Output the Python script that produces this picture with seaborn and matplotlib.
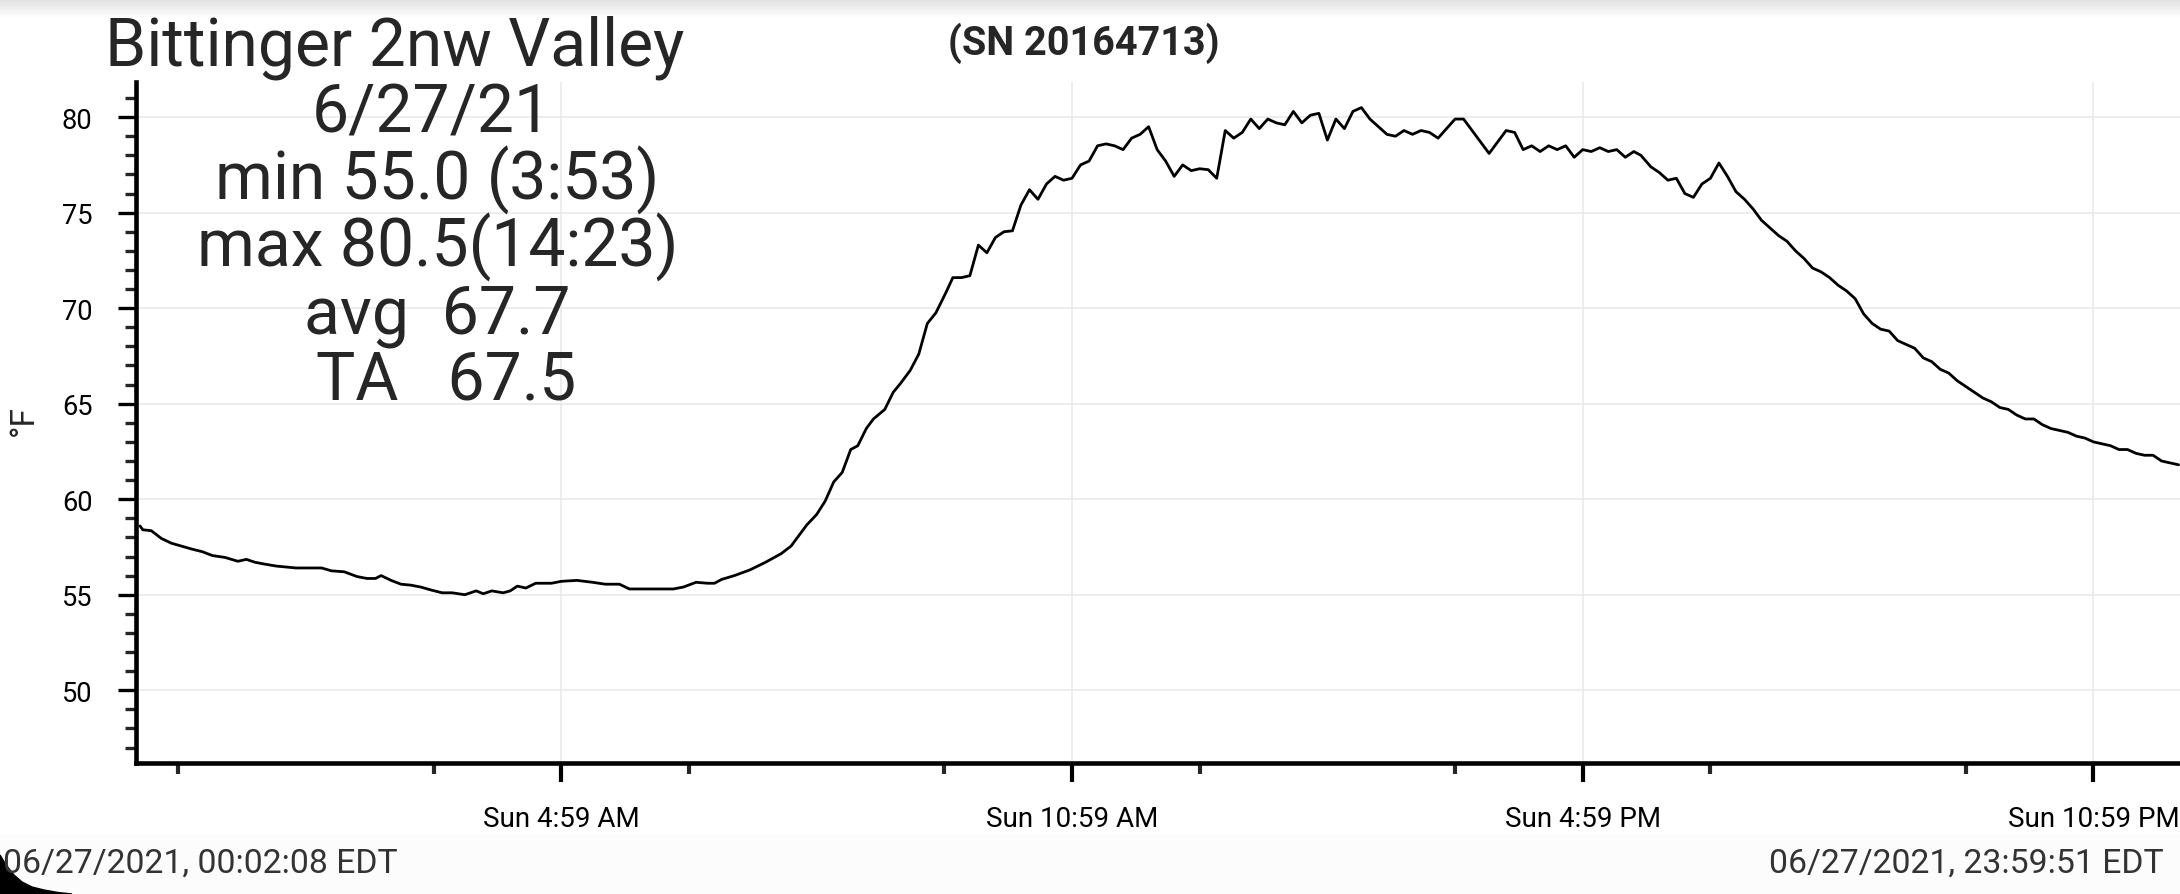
import matplotlib
matplotlib.use("Agg")
import numpy as np
import pandas as pd
import matplotlib.pyplot as plt
import seaborn as sns
from matplotlib import font_manager
from matplotlib.patches import Polygon, Rectangle

# Logger readings: minutes after midnight and temperature (deg F)
minutes = [2, 4, 10, 17, 24, 31, 38, 46, 53, 62, 71, 77, 83, 90, 98, 105, 112, 121, 130, 137,
           146, 155, 162, 168, 172, 179, 186, 193, 200, 207, 215, 222, 231, 239, 244, 250, 258, 263, 268, 274,
           281, 292, 299, 310, 321, 330, 340, 347, 357, 378, 385, 394, 402, 407, 412, 421, 432, 443, 454, 461,
           467, 472, 479, 485, 491, 497, 503, 508, 514, 519, 527, 533, 538, 545, 551, 557, 563, 570, 575, 581,
           587, 593, 599, 605, 611, 617, 623, 629, 635, 641, 647, 653, 659, 665, 671, 677, 683, 689, 695, 701,
           707, 713, 719, 725, 731, 737, 743, 749, 755, 761, 767, 773, 779, 785, 791, 797, 803, 809, 815, 821,
           827, 833, 839, 845, 851, 857, 863, 869, 875, 881, 887, 893, 899, 905, 911, 917, 923, 929, 935, 941,
           947, 953, 959, 965, 971, 977, 983, 989, 995, 1001, 1007, 1013, 1019, 1025, 1031, 1037, 1043, 1049, 1055, 1060,
           1067, 1073, 1079, 1085, 1091, 1097, 1103, 1109, 1115, 1121, 1127, 1133, 1139, 1145, 1151, 1157, 1163, 1169, 1175, 1181,
           1187, 1193, 1199, 1205, 1211, 1217, 1223, 1229, 1235, 1241, 1247, 1253, 1259, 1265, 1271, 1277, 1283, 1289, 1295, 1301,
           1307, 1313, 1319, 1325, 1331, 1337, 1343, 1349, 1355, 1361, 1367, 1373, 1379, 1385, 1391, 1397, 1403, 1409, 1415, 1421,
           1427, 1439]
temps_f = [58.6, 58.4, 58.35, 57.95, 57.7, 57.55, 57.4, 57.25, 57.05, 56.95, 56.75, 56.85, 56.7, 56.6, 56.5, 56.45, 56.4, 56.4, 56.4, 56.25,
           56.2, 55.95, 55.85, 55.85, 56.0, 55.75, 55.55, 55.5, 55.4, 55.25, 55.1, 55.1, 55.0, 55.2, 55.05, 55.2, 55.1, 55.2, 55.45, 55.35,
           55.6, 55.6, 55.7, 55.75, 55.65, 55.55, 55.55, 55.3, 55.3, 55.3, 55.4, 55.65, 55.6, 55.6, 55.8, 56.0, 56.3, 56.7, 57.15, 57.55,
           58.15, 58.65, 59.2, 59.9, 60.9, 61.4, 62.6, 62.8, 63.7, 64.2, 64.7, 65.6, 66.05, 66.75, 67.6, 69.2, 69.75, 70.8, 71.6, 71.6,
           71.7, 73.3, 72.9, 73.7, 74.0, 74.05, 75.4, 76.2, 75.7, 76.5, 76.9, 76.7, 76.8, 77.5, 77.7, 78.5, 78.6, 78.5, 78.3, 78.9,
           79.1, 79.5, 78.3, 77.7, 76.9, 77.5, 77.2, 77.3, 77.25, 76.8, 79.3, 78.9, 79.2, 79.9, 79.4, 79.9, 79.7, 79.6, 80.3, 79.7,
           80.1, 80.2, 78.8, 79.9, 79.4, 80.3, 80.5, 79.9, 79.5, 79.1, 79.0, 79.3, 79.1, 79.3, 79.2, 78.9, 79.4, 79.9, 79.9, 79.3,
           78.7, 78.1, 78.7, 79.3, 79.2, 78.3, 78.5, 78.2, 78.5, 78.3, 78.5, 77.9, 78.3, 78.2, 78.4, 78.2, 78.3, 77.9, 78.2, 78.0,
           77.4, 77.1, 76.7, 76.8, 76.0, 75.8, 76.5, 76.8, 77.6, 76.9, 76.1, 75.7, 75.2, 74.6, 74.2, 73.8, 73.5, 73.0, 72.6, 72.1,
           71.9, 71.6, 71.2, 70.9, 70.5, 69.7, 69.2, 68.9, 68.8, 68.3, 68.1, 67.9, 67.4, 67.2, 66.8, 66.6, 66.2, 65.9, 65.6, 65.3,
           65.1, 64.8, 64.7, 64.4, 64.2, 64.2, 63.9, 63.7, 63.6, 63.5, 63.3, 63.2, 63.0, 62.9, 62.8, 62.6, 62.6, 62.4, 62.3, 62.3,
           62.0, 61.8]

station = "Bittinger 2nw Valley"
stat_lines = ["6/27/21", "min 55.0 (3:53)", "max 80.5(14:23)", "avg  67.7", "TA   67.5"]
serial = "(SN 20164713)"
unit_label = "°F"
start_stamp = "06/27/2021, 00:02:08 EDT"
end_stamp = "06/27/2021, 23:59:51 EDT"

x_major = [299, 659, 1019, 1379]
x_major_labels = ["Sun 4:59 AM", "Sun 10:59 AM", "Sun 4:59 PM", "Sun 10:59 PM"]
x_minor = [29, 209, 389, 569, 749, 929, 1109, 1289]
y_major = [50, 55, 60, 65, 70, 75, 80]
y_minor = [v for v in range(47, 82) if v % 5 != 0]

W, H = 2180, 895


def fx(px):
    return px / W


def fy(py):
    return 1 - py / H


sns.set_style("white")
plt.rcParams['font.family'] = ['Roboto', 'DejaVu Sans']

# narrow face for the timestamps if there is one
names = {f.name for f in font_manager.fontManager.ttflist}
if 'Liberation Sans Narrow' in names:
    stamp_font, stamp_size = 'Liberation Sans Narrow', 26
else:
    stamp_font, stamp_size = 'Roboto', 24.3

fig = plt.figure(figsize=(W / 100, H / 100), dpi=100)
fig.patch.set_facecolor('white')
fig.add_artist(Rectangle((0, 0), 1, fy(835), transform=fig.transFigure,
                         color='#fcfcfc', zorder=-5))

ax = fig.add_axes([fx(135.7), fy(764), 1 - fx(135.7), (764 - 83) / H])
ax.set_facecolor('none')

df = pd.DataFrame({'minute': minutes, 'temp_f': temps_f})
sns.lineplot(data=df, x='minute', y='temp_f', color='black', linewidth=2.0, ax=ax)

ax.set_xlim(-1, 1440)
ax.set_ylim(46.19, 81.84)
ax.set_xticks(x_major)
ax.set_xticklabels(x_major_labels)
ax.set_xticks(x_minor, minor=True)
ax.set_yticks(y_major)
ax.set_yticks(y_minor, minor=True)
ax.set_xlabel('')
ax.set_ylabel('')

ax.grid(True, which='major', color='#e8e8e8', linewidth=1.1)
ax.set_axisbelow(True)
for side in ['top', 'right']:
    ax.spines[side].set_visible(False)
for side in ['left', 'bottom']:
    ax.spines[side].set_color('black')
    ax.spines[side].set_linewidth(3.3)

ax.tick_params(axis='y', which='major', length=12.7, width=2.4, pad=18.5,
               labelsize=19.6, colors='black', left=True)
ax.tick_params(axis='y', which='minor', length=7.7, width=2.4, left=True)
ax.tick_params(axis='x', which='major', length=13.5, width=3.0, pad=16.5,
               labelsize=20, colors='black', bottom=True)
ax.tick_params(axis='x', which='minor', length=7.9, width=3.0, bottom=True)

# header block
fig.text(fx(395), fy(65), station, fontsize=47.5, ha='center', va='baseline')
stat_x = [432, 437, 437.5, 437, 446]
for i, line in enumerate(stat_lines):
    fig.text(fx(stat_x[i]), fy(133 + i * 66.75), line, fontsize=47.5,
             ha='center', va='baseline')
fig.text(fx(1084), fy(55), serial, fontsize=28.5, fontweight='bold',
         ha='center', va='baseline')
fig.text(fx(33), fy(421), unit_label, fontsize=24, rotation=90,
         rotation_mode='anchor', ha='center', va='baseline')

# footer time stamps
fig.text(fx(3), fy(872.7), start_stamp, family=[stamp_font, 'DejaVu Sans'],
         fontsize=stamp_size, color='#333333', ha='left', va='baseline')
fig.text(fx(2164), fy(872.7), end_stamp, family=[stamp_font, 'DejaVu Sans'],
         fontsize=stamp_size, color='#333333', ha='right', va='baseline')

# screenshot edges: top shadow and rounded corner
shade = fig.add_axes([0, fy(20), 1, 20 / H])
shade.imshow(np.linspace(0.88, 1.0, 20).reshape(-1, 1), cmap='gray', vmin=0, vmax=1,
             aspect='auto', extent=(0, 1, 0, 1))
shade.axis('off')
corner = [(0, 856), (6, 866), (14, 876), (22, 883), (32, 888), (44, 891), (58, 893.5), (72, 895), (0, 895)]
fig.add_artist(Polygon([(fx(a), fy(b)) for a, b in corner], closed=True,
                       transform=fig.transFigure, color='black'))

fig.savefig('out.png', dpi=100)
